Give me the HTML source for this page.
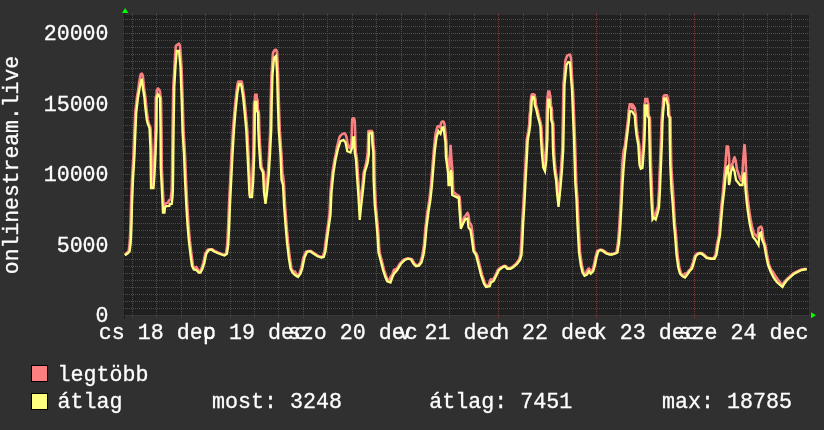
<!DOCTYPE html>
<html><head><meta charset="utf-8"><title>onlinestream.live</title>
<style>html,body{margin:0;padding:0;background:#303030;overflow:hidden}svg{display:block}text{font-family:"Liberation Mono",monospace;fill:#ffffff;font-size:21.66px;stroke:#ffffff;stroke-width:0.3px}</style></head><body>
<svg width="824" height="430" viewBox="0 0 824 430">
<rect x="0" y="0" width="824" height="430" fill="#303030"/>
<rect x="124" y="15" width="685" height="300" fill="#202020"/>
<g shape-rendering="crispEdges" stroke-width="1" stroke-dasharray="1 1" fill="none">
<line x1="123" x2="811" y1="315.5" y2="315.5" stroke="#5e3232"/>
<line x1="123" x2="811" y1="308.5" y2="308.5" stroke="#4c4c4c"/>
<line x1="123" x2="811" y1="301.5" y2="301.5" stroke="#4c4c4c"/>
<line x1="123" x2="811" y1="294.5" y2="294.5" stroke="#4c4c4c"/>
<line x1="123" x2="811" y1="287.5" y2="287.5" stroke="#4c4c4c"/>
<line x1="123" x2="811" y1="280.5" y2="280.5" stroke="#4c4c4c"/>
<line x1="123" x2="811" y1="273.5" y2="273.5" stroke="#4c4c4c"/>
<line x1="123" x2="811" y1="266.5" y2="266.5" stroke="#4c4c4c"/>
<line x1="123" x2="811" y1="259.5" y2="259.5" stroke="#4c4c4c"/>
<line x1="123" x2="811" y1="252.5" y2="252.5" stroke="#4c4c4c"/>
<line x1="123" x2="811" y1="244.5" y2="244.5" stroke="#843838"/>
<line x1="123" x2="811" y1="237.5" y2="237.5" stroke="#4c4c4c"/>
<line x1="123" x2="811" y1="230.5" y2="230.5" stroke="#4c4c4c"/>
<line x1="123" x2="811" y1="223.5" y2="223.5" stroke="#4c4c4c"/>
<line x1="123" x2="811" y1="216.5" y2="216.5" stroke="#4c4c4c"/>
<line x1="123" x2="811" y1="209.5" y2="209.5" stroke="#4c4c4c"/>
<line x1="123" x2="811" y1="202.5" y2="202.5" stroke="#4c4c4c"/>
<line x1="123" x2="811" y1="195.5" y2="195.5" stroke="#4c4c4c"/>
<line x1="123" x2="811" y1="188.5" y2="188.5" stroke="#4c4c4c"/>
<line x1="123" x2="811" y1="181.5" y2="181.5" stroke="#4c4c4c"/>
<line x1="123" x2="811" y1="174.5" y2="174.5" stroke="#843838"/>
<line x1="123" x2="811" y1="167.5" y2="167.5" stroke="#4c4c4c"/>
<line x1="123" x2="811" y1="160.5" y2="160.5" stroke="#4c4c4c"/>
<line x1="123" x2="811" y1="153.5" y2="153.5" stroke="#4c4c4c"/>
<line x1="123" x2="811" y1="146.5" y2="146.5" stroke="#4c4c4c"/>
<line x1="123" x2="811" y1="139.5" y2="139.5" stroke="#4c4c4c"/>
<line x1="123" x2="811" y1="132.5" y2="132.5" stroke="#4c4c4c"/>
<line x1="123" x2="811" y1="125.5" y2="125.5" stroke="#4c4c4c"/>
<line x1="123" x2="811" y1="117.5" y2="117.5" stroke="#4c4c4c"/>
<line x1="123" x2="811" y1="110.5" y2="110.5" stroke="#4c4c4c"/>
<line x1="123" x2="811" y1="103.5" y2="103.5" stroke="#843838"/>
<line x1="123" x2="811" y1="96.5" y2="96.5" stroke="#4c4c4c"/>
<line x1="123" x2="811" y1="89.5" y2="89.5" stroke="#4c4c4c"/>
<line x1="123" x2="811" y1="82.5" y2="82.5" stroke="#4c4c4c"/>
<line x1="123" x2="811" y1="75.5" y2="75.5" stroke="#4c4c4c"/>
<line x1="123" x2="811" y1="68.5" y2="68.5" stroke="#4c4c4c"/>
<line x1="123" x2="811" y1="61.5" y2="61.5" stroke="#4c4c4c"/>
<line x1="123" x2="811" y1="54.5" y2="54.5" stroke="#4c4c4c"/>
<line x1="123" x2="811" y1="47.5" y2="47.5" stroke="#4c4c4c"/>
<line x1="123" x2="811" y1="40.5" y2="40.5" stroke="#4c4c4c"/>
<line x1="123" x2="811" y1="33.5" y2="33.5" stroke="#843838"/>
<line x1="123" x2="811" y1="26.5" y2="26.5" stroke="#4c4c4c"/>
<line x1="123" x2="811" y1="19.5" y2="19.5" stroke="#4c4c4c"/>
<line y1="13" y2="318" x1="132.5" x2="132.5" stroke="#4c4c4c"/>
<line y1="13" y2="318" x1="156.5" x2="156.5" stroke="#4c4c4c"/>
<line y1="13" y2="318" x1="181.5" x2="181.5" stroke="#4c4c4c"/>
<line y1="13" y2="319" x1="205.5" x2="205.5" stroke="#843838"/>
<line y1="13" y2="318" x1="230.5" x2="230.5" stroke="#4c4c4c"/>
<line y1="13" y2="318" x1="254.5" x2="254.5" stroke="#4c4c4c"/>
<line y1="13" y2="318" x1="278.5" x2="278.5" stroke="#4c4c4c"/>
<line y1="13" y2="319" x1="303.5" x2="303.5" stroke="#843838"/>
<line y1="13" y2="318" x1="327.5" x2="327.5" stroke="#4c4c4c"/>
<line y1="13" y2="318" x1="352.5" x2="352.5" stroke="#4c4c4c"/>
<line y1="13" y2="318" x1="376.5" x2="376.5" stroke="#4c4c4c"/>
<line y1="13" y2="319" x1="401.5" x2="401.5" stroke="#843838"/>
<line y1="13" y2="318" x1="425.5" x2="425.5" stroke="#4c4c4c"/>
<line y1="13" y2="318" x1="449.5" x2="449.5" stroke="#4c4c4c"/>
<line y1="13" y2="318" x1="474.5" x2="474.5" stroke="#4c4c4c"/>
<line y1="13" y2="319" x1="498.5" x2="498.5" stroke="#843838"/>
<line y1="13" y2="318" x1="523.5" x2="523.5" stroke="#4c4c4c"/>
<line y1="13" y2="318" x1="547.5" x2="547.5" stroke="#4c4c4c"/>
<line y1="13" y2="318" x1="572.5" x2="572.5" stroke="#4c4c4c"/>
<line y1="13" y2="319" x1="596.5" x2="596.5" stroke="#843838"/>
<line y1="13" y2="318" x1="620.5" x2="620.5" stroke="#4c4c4c"/>
<line y1="13" y2="318" x1="645.5" x2="645.5" stroke="#4c4c4c"/>
<line y1="13" y2="318" x1="669.5" x2="669.5" stroke="#4c4c4c"/>
<line y1="13" y2="319" x1="694.5" x2="694.5" stroke="#843838"/>
<line y1="13" y2="318" x1="718.5" x2="718.5" stroke="#4c4c4c"/>
<line y1="13" y2="318" x1="743.5" x2="743.5" stroke="#4c4c4c"/>
<line y1="13" y2="318" x1="767.5" x2="767.5" stroke="#4c4c4c"/>
<line y1="13" y2="319" x1="791.5" x2="791.5" stroke="#843838"/>
</g>
<line x1="124.5" x2="124.5" y1="13" y2="319" stroke="#1c1c1c" stroke-width="1" shape-rendering="crispEdges"/>
<polygon points="122,13 128.3,13 125.1,8.1" fill="#00ff00"/>
<polygon points="811,312.2 811,318.2 816,315.2" fill="#00ff00"/>
<g fill="none" stroke-linejoin="miter" stroke-linecap="butt">
<path d="M124.80,254.33 L125.05,254.17 L125.30,254.00 L125.55,253.83 L125.80,253.67 L126.05,253.50 L126.30,253.33 L126.55,253.15 L126.80,252.91 L127.05,252.68 L127.30,252.44 L127.55,252.20 L127.80,251.96 L128.05,251.72 L128.30,251.49 L128.55,251.25 L128.80,249.70 L129.05,247.82 L129.30,245.95 L129.55,244.07 L129.80,240.45 L130.05,235.91 L130.30,229.45 L130.55,222.99 L130.80,213.20 L131.05,203.45 L131.30,197.20 L131.55,190.95 L131.80,184.70 L132.05,178.87 L132.30,174.70 L132.55,170.53 L132.80,166.37 L133.05,162.20 L133.30,158.03 L133.55,153.45 L133.80,147.20 L134.05,140.95 L134.30,134.70 L134.55,128.53 L134.80,122.70 L135.05,116.87 L135.30,111.77 L135.55,109.63 L135.80,107.49 L136.05,105.34 L136.30,103.20 L136.55,101.06 L136.80,98.91 L137.05,96.91 L137.30,95.47 L137.55,94.04 L137.80,92.60 L138.05,91.06 L138.30,89.11 L138.55,87.16 L138.80,85.21 L139.05,83.34 L139.30,81.79 L139.55,80.24 L139.80,78.70 L140.05,77.21 L140.30,76.00 L140.55,74.79 L140.80,74.18 L141.05,74.01 L141.30,73.83 L141.55,73.65 L141.80,73.60 L142.05,74.05 L142.30,74.49 L142.55,74.94 L142.80,75.39 L143.05,77.86 L143.30,80.37 L143.55,82.89 L143.80,85.40 L144.05,87.70 L144.30,89.87 L144.55,91.70 L144.80,93.32 L145.05,94.94 L145.30,96.55 L145.55,98.83 L145.80,101.56 L146.05,104.28 L146.30,107.00 L146.55,109.12 L146.80,111.23 L147.05,113.35 L147.30,115.47 L147.55,117.58 L147.80,119.70 L148.05,120.70 L148.30,121.70 L148.55,122.70 L148.80,123.70 L149.05,124.29 L149.30,124.88 L149.55,125.46 L149.80,126.05 L150.05,126.64 L150.30,127.23 L150.55,128.80 L150.80,134.30 L151.05,139.80 L151.30,145.30 L151.55,153.87 L151.80,174.70 L152.05,187.70 L152.30,187.70 L152.55,187.05 L152.80,183.80 L153.05,180.55 L153.30,177.30 L153.55,173.70 L153.80,168.70 L154.05,163.70 L154.30,158.70 L154.55,153.45 L154.80,147.20 L155.05,140.95 L155.30,134.70 L155.55,123.20 L155.80,97.08 L156.05,96.48 L156.30,95.88 L156.55,94.46 L156.80,90.51 L157.05,89.78 L157.30,89.45 L157.55,89.13 L157.80,88.80 L158.05,88.58 L158.30,88.78 L158.55,88.99 L158.80,89.19 L159.05,89.40 L159.30,89.98 L159.55,90.56 L159.80,91.14 L160.05,92.09 L160.30,94.51 L160.55,96.53 L160.80,96.90 L161.05,100.45 L161.30,116.70 L161.55,137.20 L161.80,168.20 L162.05,173.20 L162.30,178.20 L162.55,183.20 L162.80,188.20 L163.05,193.20 L163.30,198.20 L163.55,203.20 L163.80,208.20 L164.05,207.13 L164.30,206.81 L164.55,206.32 L164.80,205.18 L165.05,204.22 L165.30,204.00 L165.55,203.78 L165.80,203.56 L166.05,203.36 L166.30,203.25 L166.55,203.15 L166.80,203.04 L167.05,202.94 L167.30,202.83 L167.55,202.73 L167.80,202.62 L168.05,202.52 L168.30,202.41 L168.55,201.64 L168.80,200.43 L169.05,200.31 L169.30,200.19 L169.55,199.98 L169.80,199.69 L170.05,199.56 L170.30,199.43 L170.55,199.29 L170.80,198.36 L171.05,196.22 L171.30,194.08 L171.55,191.41 L171.80,186.76 L172.05,175.14 L172.30,150.40 L172.55,129.97 L172.80,114.69 L173.05,101.15 L173.30,87.20 L173.55,82.87 L173.80,78.55 L174.05,74.22 L174.30,69.89 L174.55,64.78 L174.80,60.79 L175.05,57.08 L175.30,53.38 L175.55,49.67 L175.80,46.33 L176.05,45.98 L176.30,45.64 L176.55,45.30 L176.80,44.96 L177.05,44.82 L177.30,44.68 L177.55,44.54 L177.80,44.40 L178.05,44.26 L178.30,44.12 L178.55,43.98 L178.80,43.84 L179.05,43.83 L179.30,44.30 L179.55,44.78 L179.80,45.26 L180.05,46.29 L180.30,49.52 L180.55,52.81 L180.80,56.38 L181.05,59.95 L181.30,63.52 L181.55,67.94 L181.80,75.60 L182.05,82.60 L182.30,89.60 L182.55,96.60 L182.80,104.03 L183.05,113.20 L183.30,122.37 L183.55,130.53 L183.80,134.70 L184.05,138.87 L184.30,143.03 L184.55,147.20 L184.80,151.37 L185.05,155.95 L185.30,162.20 L185.55,168.45 L185.80,174.70 L186.05,180.70 L186.30,185.70 L186.55,190.70 L186.80,195.70 L187.05,200.70 L187.30,205.50 L187.55,209.50 L187.80,213.50 L188.05,217.50 L188.30,221.50 L188.55,225.30 L188.80,228.30 L189.05,231.30 L189.30,234.30 L189.55,237.30 L189.80,240.13 L190.05,242.27 L190.30,244.41 L190.55,246.56 L190.80,248.70 L191.05,250.84 L191.30,252.99 L191.55,255.07 L191.80,256.90 L192.05,258.73 L192.30,260.57 L192.55,262.40 L192.80,264.23 L193.05,265.80 L193.30,266.30 L193.55,266.80 L193.80,267.25 L194.05,267.50 L194.30,267.76 L194.55,268.01 L194.80,268.18 L195.05,267.98 L195.30,267.78 L195.55,267.59 L195.80,267.39 L196.05,267.20 L196.30,267.10 L196.55,267.40 L196.80,267.69 L197.05,267.99 L197.30,268.32 L197.55,268.82 L197.80,269.32 L198.05,269.81 L198.30,270.31 L198.55,270.80 L198.80,271.25 L199.05,271.50 L199.30,271.75 L199.55,272.00 L199.80,271.64 L200.05,271.17 L200.30,270.70 L200.55,270.23 L200.80,269.76 L201.05,269.29 L201.30,268.82 L201.55,268.29 L201.80,267.51 L202.05,266.73 L202.30,265.95 L202.55,265.17 L202.80,264.39 L203.05,263.61 L203.30,262.82 L203.55,261.95 L203.80,260.70 L204.05,259.45 L204.30,258.20 L204.55,256.95 L204.80,255.70 L205.05,254.45 L205.30,253.37 L205.55,253.00 L205.80,252.62 L206.05,252.25 L206.30,251.87 L206.55,251.50 L206.80,251.12 L207.05,250.75 L207.30,250.37 L207.55,250.00 L207.80,249.69 L208.05,249.64 L208.30,249.59 L208.55,249.54 L208.80,249.49 L209.05,249.44 L209.30,249.39 L209.55,249.34 L209.80,249.29 L210.05,249.24 L210.30,249.23 L210.55,249.23 L210.80,249.23 L211.05,249.23 L211.30,249.23 L211.55,249.23 L211.80,249.23 L212.05,249.23 L212.30,249.23 L212.55,249.41 L212.80,249.59 L213.05,249.76 L213.30,249.94 L213.55,250.11 L213.80,250.28 L214.05,250.46 L214.30,250.63 L214.55,250.81 L214.80,250.97 L215.05,251.09 L215.30,251.21 L215.55,251.32 L215.80,251.44 L216.05,251.56 L216.30,251.67 L216.55,251.79 L216.80,251.91 L217.05,252.02 L217.30,252.14 L217.55,252.26 L217.80,252.37 L218.05,252.49 L218.30,252.61 L218.55,252.72 L218.80,252.82 L219.05,252.92 L219.30,253.02 L219.55,253.12 L219.80,253.22 L220.05,253.32 L220.30,253.42 L220.55,253.52 L220.80,253.62 L221.05,253.72 L221.30,253.82 L221.55,253.92 L221.80,254.02 L222.05,254.12 L222.30,254.22 L222.55,254.29 L222.80,254.37 L223.05,254.45 L223.30,254.52 L223.55,254.60 L223.80,254.68 L224.05,254.75 L224.30,254.64 L224.55,254.46 L224.80,254.29 L225.05,254.11 L225.30,253.94 L225.55,253.76 L225.80,253.59 L226.05,253.10 L226.30,251.35 L226.55,249.60 L226.80,247.85 L227.05,246.10 L227.30,243.70 L227.55,238.70 L227.80,233.70 L228.05,228.70 L228.30,223.37 L228.55,216.70 L228.80,210.03 L229.05,203.70 L229.30,198.70 L229.55,193.70 L229.80,188.70 L230.05,183.70 L230.30,178.70 L230.55,173.70 L230.80,168.70 L231.05,163.70 L231.30,158.70 L231.55,153.87 L231.80,149.70 L232.05,145.53 L232.30,141.37 L232.55,137.20 L232.80,133.03 L233.05,129.07 L233.30,125.92 L233.55,122.76 L233.80,119.61 L234.05,116.45 L234.30,113.30 L234.55,110.75 L234.80,108.21 L235.05,105.66 L235.30,103.12 L235.55,100.63 L235.80,98.18 L236.05,95.73 L236.30,93.28 L236.55,91.23 L236.80,89.46 L237.05,87.68 L237.30,85.91 L237.55,84.33 L237.80,83.15 L238.05,82.36 L238.30,81.58 L238.55,81.50 L238.80,81.45 L239.05,81.45 L239.30,81.45 L239.55,81.45 L239.80,81.45 L240.05,81.45 L240.30,81.45 L240.55,81.45 L240.80,81.45 L241.05,81.45 L241.30,81.45 L241.55,81.45 L241.80,82.08 L242.05,83.31 L242.30,84.54 L242.55,85.77 L242.80,87.62 L243.05,89.63 L243.30,91.37 L243.55,93.03 L243.80,94.70 L244.05,96.37 L244.30,98.70 L244.55,101.20 L244.80,103.70 L245.05,106.20 L245.30,108.70 L245.55,111.20 L245.80,113.88 L246.05,116.61 L246.30,119.34 L246.55,122.06 L246.80,124.79 L247.05,127.52 L247.30,130.70 L247.55,135.70 L247.80,140.70 L248.05,145.70 L248.30,150.70 L248.55,155.70 L248.80,160.70 L249.05,165.70 L249.30,170.70 L249.55,175.70 L249.80,180.70 L250.05,185.70 L250.30,190.70 L250.55,194.90 L250.80,195.90 L251.05,196.02 L251.30,192.62 L251.55,189.22 L251.80,185.82 L252.05,182.42 L252.30,178.45 L252.55,172.20 L252.80,165.95 L253.05,159.70 L253.30,151.92 L253.55,138.03 L253.80,116.70 L254.05,102.70 L254.30,101.70 L254.55,101.70 L254.80,99.65 L255.05,96.16 L255.30,94.73 L255.55,94.73 L255.80,94.73 L256.05,94.73 L256.30,94.73 L256.55,94.73 L256.80,98.42 L257.05,98.93 L257.30,99.45 L257.55,99.96 L257.80,108.47 L258.05,109.64 L258.30,110.95 L258.55,111.58 L258.80,112.20 L259.05,115.53 L259.30,129.70 L259.55,135.06 L259.80,140.41 L260.05,145.45 L260.30,149.20 L260.55,152.95 L260.80,156.70 L261.05,160.45 L261.30,164.20 L261.55,167.30 L261.80,167.80 L262.05,168.30 L262.30,168.80 L262.55,169.30 L262.80,169.80 L263.05,170.30 L263.30,170.80 L263.55,171.30 L263.80,171.80 L264.05,173.20 L264.30,178.20 L264.55,183.20 L264.80,188.20 L265.05,192.58 L265.30,194.45 L265.55,195.57 L265.80,193.70 L266.05,191.70 L266.30,189.20 L266.55,186.70 L266.80,184.20 L267.05,181.70 L267.30,179.20 L267.55,176.70 L267.80,173.90 L268.05,169.90 L268.30,165.90 L268.55,161.90 L268.80,157.90 L269.05,153.70 L269.30,148.70 L269.55,143.70 L269.80,138.70 L270.05,133.70 L270.30,126.70 L270.55,111.70 L270.80,98.03 L271.05,89.70 L271.30,81.37 L271.55,74.13 L271.80,71.03 L272.05,66.83 L272.30,62.63 L272.55,58.65 L272.80,55.54 L273.05,52.95 L273.30,52.43 L273.55,51.90 L273.80,51.38 L274.05,50.90 L274.30,50.60 L274.55,50.30 L274.80,50.00 L275.05,49.94 L275.30,49.89 L275.55,49.84 L275.80,49.79 L276.05,49.85 L276.30,50.37 L276.55,50.88 L276.80,51.39 L277.05,52.67 L277.30,58.04 L277.55,63.41 L277.80,68.50 L278.05,73.57 L278.30,82.90 L278.55,92.23 L278.80,101.20 L279.05,108.70 L279.30,116.20 L279.55,123.70 L279.80,130.41 L280.05,133.99 L280.30,137.56 L280.55,141.13 L280.80,144.70 L281.05,148.27 L281.30,151.84 L281.55,155.73 L281.80,160.89 L282.05,166.04 L282.30,171.20 L282.55,175.27 L282.80,175.01 L283.05,175.30 L283.30,177.77 L283.55,180.25 L283.80,182.72 L284.05,185.70 L284.30,190.70 L284.55,195.70 L284.80,200.70 L285.05,205.37 L285.30,208.70 L285.55,212.03 L285.80,215.37 L286.05,218.70 L286.30,222.03 L286.55,225.28 L286.80,228.20 L287.05,231.12 L287.30,234.03 L287.55,236.95 L287.80,239.87 L288.05,242.63 L288.30,244.77 L288.55,246.91 L288.80,249.06 L289.05,251.20 L289.30,253.34 L289.55,255.49 L289.80,257.52 L290.05,259.13 L290.30,260.74 L290.55,262.34 L290.80,263.95 L291.05,265.56 L291.30,267.16 L291.55,268.54 L291.80,269.01 L292.05,269.48 L292.30,269.95 L292.55,270.38 L292.80,270.64 L293.05,270.91 L293.30,271.17 L293.55,271.39 L293.80,271.43 L294.05,271.48 L294.30,271.52 L294.55,271.57 L294.80,271.61 L295.05,271.73 L295.30,272.16 L295.55,272.58 L295.80,273.00 L296.05,273.40 L296.30,273.74 L296.55,274.08 L296.80,274.41 L297.05,274.75 L297.30,275.09 L297.55,275.43 L297.80,275.52 L298.05,275.33 L298.30,275.01 L298.55,274.69 L298.80,274.36 L299.05,274.03 L299.30,273.71 L299.55,273.29 L299.80,272.51 L300.05,271.73 L300.30,270.95 L300.55,270.17 L300.80,269.39 L301.05,268.61 L301.30,267.82 L301.55,266.95 L301.80,265.70 L302.05,264.45 L302.30,263.20 L302.55,261.95 L302.80,260.70 L303.05,259.45 L303.30,258.20 L303.55,257.09 L303.80,256.54 L304.05,255.99 L304.30,255.44 L304.55,254.89 L304.80,254.34 L305.05,253.79 L305.30,253.24 L305.55,252.69 L305.80,252.14 L306.05,251.69 L306.30,251.62 L306.55,251.56 L306.80,251.50 L307.05,251.44 L307.30,251.38 L307.55,251.31 L307.80,251.25 L308.05,251.19 L308.30,251.12 L308.55,251.06 L308.80,251.00 L309.05,250.98 L309.30,250.98 L309.55,250.98 L309.80,250.98 L310.05,250.98 L310.30,250.98 L310.55,250.98 L310.80,250.98 L311.05,250.98 L311.30,251.15 L311.55,251.32 L311.80,251.48 L312.05,251.65 L312.30,251.82 L312.55,251.98 L312.80,252.15 L313.05,252.32 L313.30,252.48 L313.55,252.65 L313.80,252.82 L314.05,252.98 L314.30,253.15 L314.55,253.32 L314.80,253.48 L315.05,253.65 L315.30,253.82 L315.55,253.98 L315.80,254.15 L316.05,254.32 L316.30,254.48 L316.55,254.65 L316.80,254.82 L317.05,254.98 L317.30,255.15 L317.55,255.32 L317.80,255.48 L318.05,255.65 L318.30,255.82 L318.55,255.97 L318.80,256.05 L319.05,256.13 L319.30,256.22 L319.55,256.30 L319.80,256.38 L320.05,256.47 L320.30,256.55 L320.55,256.63 L320.80,256.72 L321.05,256.80 L321.30,256.88 L321.55,256.94 L321.80,256.89 L322.05,256.84 L322.30,256.79 L322.55,256.74 L322.80,256.54 L323.05,255.71 L323.30,254.89 L323.55,254.07 L323.80,253.25 L324.05,252.43 L324.30,251.61 L324.55,250.56 L324.80,248.59 L325.05,246.63 L325.30,244.66 L325.55,242.70 L325.80,240.74 L326.05,238.77 L326.30,236.84 L326.55,235.06 L326.80,233.27 L327.05,231.49 L327.30,229.70 L327.55,227.91 L327.80,226.13 L328.05,224.37 L328.30,222.70 L328.55,221.03 L328.80,219.37 L329.05,217.70 L329.30,216.03 L329.55,213.57 L329.80,207.95 L330.05,202.32 L330.30,196.70 L330.55,191.70 L330.80,189.20 L331.05,186.70 L331.30,184.20 L331.55,181.70 L331.80,179.20 L332.05,176.70 L332.30,174.20 L332.55,171.89 L332.80,170.32 L333.05,168.76 L333.30,167.20 L333.55,165.64 L333.80,164.07 L334.05,162.51 L334.30,160.95 L334.55,159.47 L334.80,158.35 L335.05,157.22 L335.30,156.10 L335.55,154.93 L335.80,153.55 L336.05,152.18 L336.30,150.81 L336.55,149.44 L336.80,148.07 L337.05,146.77 L337.30,145.78 L337.55,144.78 L337.80,143.79 L338.05,142.79 L338.30,141.79 L338.55,140.80 L338.80,139.80 L339.05,138.81 L339.30,137.81 L339.55,136.94 L339.80,136.59 L340.05,136.24 L340.30,135.89 L340.55,135.57 L340.80,135.37 L341.05,135.16 L341.30,134.95 L341.55,134.75 L341.80,134.54 L342.05,134.33 L342.30,134.13 L342.55,134.00 L342.80,133.90 L343.05,133.80 L343.30,133.69 L343.55,133.60 L343.80,133.55 L344.05,133.50 L344.30,133.45 L344.55,133.40 L344.80,133.66 L345.05,133.92 L345.30,134.18 L345.55,134.52 L345.80,135.19 L346.05,135.85 L346.30,136.51 L346.55,137.37 L346.80,138.97 L347.05,140.57 L347.30,142.11 L347.55,143.43 L347.80,144.74 L348.05,146.05 L348.30,147.13 L348.55,147.29 L348.80,147.45 L349.05,147.61 L349.30,147.77 L349.55,147.93 L349.80,147.79 L350.05,147.06 L350.30,146.32 L350.55,145.58 L350.80,144.96 L351.05,144.38 L351.30,143.25 L351.55,139.92 L351.80,132.05 L352.05,123.70 L352.30,119.11 L352.55,118.83 L352.80,118.56 L353.05,118.34 L353.30,118.34 L353.55,118.34 L353.80,118.34 L354.05,118.50 L354.30,119.32 L354.55,120.14 L354.80,121.94 L355.05,128.61 L355.30,139.29 L355.55,146.97 L355.80,151.92 L356.05,153.82 L356.30,155.16 L356.55,156.70 L356.80,158.37 L357.05,160.50 L357.30,164.50 L357.55,168.50 L357.80,172.50 L358.05,176.50 L358.30,180.40 L358.55,183.90 L358.80,187.40 L359.05,190.90 L359.30,194.40 L359.55,198.10 L359.80,202.60 L360.05,206.76 L360.30,204.57 L360.55,202.39 L360.80,200.20 L361.05,198.01 L361.30,195.82 L361.55,193.64 L361.80,191.45 L362.05,189.20 L362.30,186.70 L362.55,184.20 L362.80,181.70 L363.05,179.20 L363.30,176.70 L363.55,174.20 L363.80,172.03 L364.05,171.20 L364.30,170.37 L364.55,169.53 L364.80,168.66 L365.05,167.61 L365.30,166.56 L365.55,165.51 L365.80,164.46 L366.05,163.41 L366.30,162.36 L366.55,161.31 L366.80,159.55 L367.05,157.60 L367.30,155.65 L367.55,153.71 L367.80,152.06 L368.05,142.02 L368.30,132.18 L368.55,131.09 L368.80,131.00 L369.05,131.06 L369.30,131.06 L369.55,131.06 L369.80,131.06 L370.05,131.06 L370.30,131.06 L370.55,131.06 L370.80,131.06 L371.05,131.06 L371.30,131.06 L371.55,131.06 L371.80,131.06 L372.05,131.55 L372.30,132.37 L372.55,132.70 L372.80,132.70 L373.05,136.00 L373.30,141.50 L373.55,145.03 L373.80,147.26 L374.05,149.48 L374.30,151.70 L374.55,175.03 L374.80,184.05 L375.05,189.48 L375.30,194.92 L375.55,200.35 L375.80,205.20 L376.05,207.70 L376.30,210.20 L376.55,212.77 L376.80,215.63 L377.05,218.49 L377.30,221.34 L377.55,224.20 L377.80,227.06 L378.05,229.91 L378.30,233.00 L378.55,237.00 L378.80,241.00 L379.05,245.00 L379.30,249.00 L379.55,252.39 L379.80,253.33 L380.05,254.26 L380.30,255.20 L380.55,256.14 L380.80,257.08 L381.05,258.01 L381.30,258.95 L381.55,259.90 L381.80,260.90 L382.05,261.90 L382.30,262.90 L382.55,263.90 L382.80,264.90 L383.05,265.90 L383.30,266.90 L383.55,267.90 L383.80,268.90 L384.05,269.85 L384.30,270.60 L384.55,271.35 L384.80,272.10 L385.05,272.85 L385.30,273.60 L385.55,274.35 L385.80,275.10 L386.05,275.85 L386.30,276.60 L386.55,277.31 L386.80,277.84 L387.05,278.38 L387.30,278.88 L387.55,279.22 L387.80,279.57 L388.05,279.92 L388.30,280.17 L388.55,280.08 L388.80,279.99 L389.05,279.90 L389.30,279.80 L389.55,279.71 L389.80,279.41 L390.05,278.51 L390.30,277.61 L390.55,276.81 L390.80,276.45 L391.05,276.08 L391.30,275.76 L391.55,275.57 L391.80,275.39 L392.05,275.20 L392.30,274.88 L392.55,273.99 L392.80,273.11 L393.05,272.27 L393.30,271.63 L393.55,270.99 L393.80,270.35 L394.05,269.82 L394.30,269.72 L394.55,269.62 L394.80,269.52 L395.05,269.42 L395.30,269.32 L395.55,269.22 L395.80,269.12 L396.05,269.02 L396.30,268.90 L396.55,268.67 L396.80,268.44 L397.05,268.22 L397.30,267.95 L397.55,267.53 L397.80,267.12 L398.05,266.70 L398.30,266.28 L398.55,265.87 L398.80,265.45 L399.05,265.03 L399.30,264.62 L399.55,264.20 L399.80,263.78 L400.05,263.40 L400.30,263.15 L400.55,262.90 L400.80,262.65 L401.05,262.40 L401.30,262.15 L401.55,261.90 L401.80,261.65 L402.05,261.40 L402.30,261.15 L402.55,260.90 L402.80,260.65 L403.05,260.40 L403.30,260.15 L403.55,259.90 L403.80,259.68 L404.05,259.58 L404.30,259.49 L404.55,259.39 L404.80,259.30 L405.05,259.20 L405.30,259.10 L405.55,259.01 L405.80,258.91 L406.05,258.82 L406.30,258.72 L406.55,258.62 L406.80,258.53 L407.05,258.46 L407.30,258.46 L407.55,258.46 L407.80,258.46 L408.05,258.46 L408.30,258.46 L408.55,258.46 L408.80,258.46 L409.05,258.46 L409.30,258.52 L409.55,258.59 L409.80,258.65 L410.05,258.71 L410.30,258.77 L410.55,258.84 L410.80,258.90 L411.05,258.96 L411.30,259.02 L411.55,259.09 L411.80,259.15 L412.05,259.29 L412.30,259.71 L412.55,260.13 L412.80,260.56 L413.05,260.99 L413.30,261.41 L413.55,261.83 L413.80,262.26 L414.05,262.69 L414.30,263.11 L414.55,263.50 L414.80,263.75 L415.05,264.00 L415.30,264.25 L415.55,264.50 L415.80,264.75 L416.05,265.00 L416.30,265.25 L416.55,265.50 L416.80,265.65 L417.05,265.61 L417.30,265.57 L417.55,265.52 L417.80,265.48 L418.05,265.38 L418.30,265.06 L418.55,264.73 L418.80,264.41 L419.05,264.08 L419.30,263.76 L419.55,263.44 L419.80,263.11 L420.05,262.78 L420.30,262.46 L420.55,262.01 L420.80,261.07 L421.05,260.14 L421.30,259.20 L421.55,258.26 L421.80,257.32 L422.05,256.39 L422.30,255.45 L422.55,254.37 L422.80,252.70 L423.05,251.03 L423.30,249.37 L423.55,247.70 L423.80,246.03 L424.05,244.12 L424.30,241.20 L424.55,238.28 L424.80,235.37 L425.05,232.45 L425.30,229.53 L425.55,226.81 L425.80,224.83 L426.05,222.86 L426.30,220.88 L426.55,218.91 L426.80,216.94 L427.05,214.96 L427.30,212.99 L427.55,211.26 L427.80,209.70 L428.05,208.14 L428.30,206.57 L428.55,205.01 L428.80,203.45 L429.05,201.89 L429.30,200.32 L429.55,198.29 L429.80,195.95 L430.05,193.61 L430.30,191.26 L430.55,188.92 L430.80,186.57 L431.05,184.07 L431.30,180.95 L431.55,177.82 L431.80,174.70 L432.05,171.58 L432.30,168.45 L432.55,165.33 L432.80,162.39 L433.05,159.51 L433.30,156.62 L433.55,153.74 L433.80,150.48 L434.05,147.68 L434.30,145.25 L434.55,142.82 L434.80,140.40 L435.05,138.10 L435.30,135.89 L435.55,133.92 L435.80,132.88 L436.05,131.84 L436.30,130.80 L436.55,129.80 L436.80,128.91 L437.05,128.03 L437.30,127.15 L437.55,126.48 L437.80,126.38 L438.05,126.28 L438.30,126.17 L438.55,126.11 L438.80,126.22 L439.05,126.32 L439.30,126.42 L439.55,126.52 L439.80,126.94 L440.05,127.20 L440.30,126.41 L440.55,125.55 L440.80,124.43 L441.05,123.30 L441.30,122.35 L441.55,122.12 L441.80,121.88 L442.05,121.65 L442.30,121.46 L442.55,121.46 L442.80,121.46 L443.05,121.46 L443.30,121.46 L443.55,121.58 L443.80,122.20 L444.05,122.81 L444.30,123.43 L444.55,124.39 L444.80,126.72 L445.05,129.05 L445.30,131.38 L445.55,133.94 L445.80,136.71 L446.05,138.98 L446.30,140.92 L446.55,146.20 L446.80,153.70 L447.05,157.75 L447.30,159.50 L447.55,161.25 L447.80,163.00 L448.05,164.86 L448.30,166.79 L448.55,168.39 L448.80,168.69 L449.05,169.84 L449.30,168.45 L449.55,162.94 L449.80,160.45 L450.05,154.57 L450.30,148.70 L450.55,144.79 L450.80,148.79 L451.05,152.79 L451.30,156.79 L451.55,160.48 L451.80,163.56 L452.05,166.65 L452.30,169.24 L452.55,171.24 L452.80,178.74 L453.05,186.24 L453.30,192.26 L453.55,192.39 L453.80,192.51 L454.05,192.64 L454.30,192.76 L454.55,192.89 L454.80,193.03 L455.05,193.24 L455.30,193.45 L455.55,193.65 L455.80,193.86 L456.05,194.07 L456.30,194.27 L456.55,194.48 L456.80,194.69 L457.05,194.89 L457.30,195.09 L457.55,195.21 L457.80,195.34 L458.05,195.46 L458.30,195.56 L458.55,195.56 L458.80,195.77 L459.05,196.28 L459.30,196.79 L459.55,197.20 L459.80,198.76 L460.05,202.67 L460.30,206.58 L460.55,210.42 L460.80,214.03 L461.05,217.63 L461.30,221.24 L461.55,224.47 L461.80,223.90 L462.05,223.35 L462.30,222.85 L462.55,222.35 L462.80,221.85 L463.05,221.30 L463.30,220.55 L463.55,219.81 L463.80,219.06 L464.05,218.32 L464.30,217.57 L464.55,216.92 L464.80,216.66 L465.05,216.39 L465.30,216.13 L465.55,215.84 L465.80,215.46 L466.05,215.08 L466.30,214.71 L466.55,214.35 L466.80,213.99 L467.05,213.63 L467.30,213.27 L467.55,213.09 L467.80,213.60 L468.05,214.11 L468.30,214.62 L468.55,215.42 L468.80,217.44 L469.05,219.46 L469.30,221.48 L469.55,223.12 L469.80,223.23 L470.05,223.34 L470.30,223.44 L470.55,223.65 L470.80,224.23 L471.05,224.82 L471.30,225.40 L471.55,226.26 L471.80,228.20 L472.05,230.20 L472.30,232.41 L472.55,234.62 L472.80,236.84 L473.05,239.09 L473.30,241.51 L473.55,243.83 L473.80,245.70 L474.05,247.58 L474.30,249.45 L474.55,251.03 L474.80,251.40 L475.05,251.78 L475.30,252.15 L475.55,252.53 L475.80,252.90 L476.05,253.28 L476.30,253.65 L476.55,254.03 L476.80,254.40 L477.05,254.90 L477.30,255.90 L477.55,256.90 L477.80,257.90 L478.05,258.90 L478.30,259.90 L478.55,260.90 L478.80,261.90 L479.05,262.90 L479.30,263.90 L479.55,264.90 L479.80,265.90 L480.05,266.90 L480.30,267.90 L480.55,268.90 L480.80,269.90 L481.05,270.90 L481.30,271.90 L481.55,272.90 L481.80,273.90 L482.05,274.85 L482.30,275.58 L482.55,276.30 L482.80,277.03 L483.05,277.76 L483.30,278.49 L483.55,279.22 L483.80,279.95 L484.05,280.68 L484.30,281.41 L484.55,282.14 L484.80,282.87 L485.05,283.53 L485.30,283.94 L485.55,284.34 L485.80,284.75 L486.05,285.13 L486.30,285.43 L486.55,285.73 L486.80,285.99 L487.05,285.83 L487.30,285.67 L487.55,285.51 L487.80,285.35 L488.05,285.19 L488.30,285.03 L488.55,284.87 L488.80,284.58 L489.05,283.72 L489.30,282.86 L489.55,282.00 L489.80,281.13 L490.05,280.34 L490.30,280.05 L490.55,279.76 L490.80,279.47 L491.05,279.26 L491.30,279.39 L491.55,279.51 L491.80,279.63 L492.05,279.75 L492.30,279.87 L492.55,279.92 L492.80,279.66 L493.05,279.41 L493.30,279.15 L493.55,278.85 L493.80,278.35 L494.05,277.85 L494.30,277.35 L494.55,276.85 L494.80,276.35 L495.05,275.85 L495.30,275.32 L495.55,274.80 L495.80,274.28 L496.05,273.76 L496.30,273.24 L496.55,272.72 L496.80,272.20 L497.05,271.68 L497.30,271.16 L497.55,270.64 L497.80,270.12 L498.05,269.66 L498.30,269.47 L498.55,269.28 L498.80,269.08 L499.05,268.89 L499.30,268.70 L499.55,268.51 L499.80,268.32 L500.05,268.12 L500.30,267.93 L500.55,267.74 L500.80,267.55 L501.05,267.35 L501.30,267.18 L501.55,267.05 L501.80,266.93 L502.05,266.80 L502.30,266.68 L502.55,266.55 L502.80,266.43 L503.05,266.30 L503.30,266.18 L503.55,266.05 L503.80,266.00 L504.05,266.00 L504.30,266.00 L504.55,266.00 L504.80,266.00 L505.05,266.00 L505.30,266.00 L505.55,266.00 L505.80,266.00 L506.05,266.25 L506.30,266.50 L506.55,266.75 L506.80,267.00 L507.05,267.25 L507.30,267.50 L507.55,267.75 L507.80,268.00 L508.05,268.25 L508.30,268.45 L508.55,268.45 L508.80,268.45 L509.05,268.45 L509.30,268.45 L509.55,268.42 L509.80,268.27 L510.05,268.13 L510.30,267.98 L510.55,267.84 L510.80,267.69 L511.05,267.55 L511.30,267.40 L511.55,267.25 L511.80,267.11 L512.05,266.96 L512.30,266.82 L512.55,266.66 L512.80,266.44 L513.05,266.22 L513.30,266.01 L513.55,265.79 L513.80,265.57 L514.05,265.36 L514.30,265.14 L514.55,264.92 L514.80,264.71 L515.05,264.49 L515.30,264.27 L515.55,264.06 L515.80,263.84 L516.05,263.62 L516.30,263.38 L516.55,263.04 L516.80,262.70 L517.05,262.36 L517.30,262.02 L517.55,261.68 L517.80,261.34 L518.05,261.00 L518.30,260.65 L518.55,260.31 L518.80,259.97 L519.05,259.53 L519.30,258.70 L519.55,257.87 L519.80,257.03 L520.05,256.20 L520.30,255.37 L520.55,253.95 L520.80,250.20 L521.05,246.45 L521.30,242.70 L521.55,238.53 L521.80,232.70 L522.05,226.87 L522.30,221.40 L522.55,217.40 L522.80,213.40 L523.05,209.40 L523.30,205.40 L523.55,201.20 L523.80,196.20 L524.05,191.20 L524.30,186.20 L524.55,181.20 L524.80,176.30 L525.05,171.80 L525.30,167.30 L525.55,162.80 L525.80,158.30 L526.05,153.70 L526.30,148.70 L526.55,143.70 L526.80,139.43 L527.05,138.06 L527.30,136.70 L527.55,135.34 L527.80,133.97 L528.05,132.61 L528.30,131.25 L528.55,129.53 L528.80,127.59 L529.05,125.64 L529.30,123.70 L529.55,117.03 L529.80,113.99 L530.05,111.84 L530.30,109.70 L530.55,103.53 L530.80,100.64 L531.05,98.57 L531.30,96.50 L531.55,95.13 L531.80,94.70 L532.05,94.49 L532.30,94.29 L532.55,94.29 L532.80,94.29 L533.05,94.29 L533.30,94.29 L533.55,94.29 L533.80,94.35 L534.05,94.51 L534.30,94.67 L534.55,94.83 L534.80,96.14 L535.05,97.28 L535.30,98.42 L535.55,99.56 L535.80,104.21 L536.05,105.14 L536.30,106.08 L536.55,106.99 L536.80,107.81 L537.05,108.62 L537.30,109.44 L537.55,110.33 L537.80,111.46 L538.05,112.59 L538.30,113.73 L538.55,114.86 L538.80,115.99 L539.05,117.07 L539.30,117.95 L539.55,118.82 L539.80,119.70 L540.05,120.57 L540.30,121.45 L540.55,122.53 L540.80,123.76 L541.05,124.98 L541.30,126.21 L541.55,129.85 L541.80,135.10 L542.05,139.59 L542.30,143.56 L542.55,147.54 L542.80,151.52 L543.05,155.20 L543.30,157.70 L543.55,160.20 L543.80,162.70 L544.05,165.20 L544.30,167.31 L544.55,166.19 L544.80,164.03 L545.05,161.86 L545.30,159.70 L545.55,155.15 L545.80,150.61 L546.05,146.06 L546.30,141.52 L546.55,129.39 L546.80,112.20 L547.05,104.14 L547.30,99.30 L547.55,97.76 L547.80,95.20 L548.05,92.89 L548.30,91.51 L548.55,91.51 L548.80,91.51 L549.05,91.51 L549.30,91.51 L549.55,92.59 L549.80,94.38 L550.05,94.99 L550.30,95.61 L550.55,98.62 L550.80,103.24 L551.05,105.40 L551.30,106.95 L551.55,107.58 L551.80,108.20 L552.05,115.39 L552.30,120.03 L552.55,120.87 L552.80,121.70 L553.05,122.53 L553.30,123.37 L553.55,130.60 L553.80,142.10 L554.05,150.13 L554.30,155.30 L554.55,158.30 L554.80,161.30 L555.05,164.30 L555.30,167.30 L555.55,170.03 L555.80,171.70 L556.05,173.37 L556.30,175.03 L556.55,176.70 L556.80,178.37 L557.05,180.32 L557.30,183.45 L557.55,186.57 L557.80,189.70 L558.05,192.68 L558.30,195.10 L558.55,196.70 L558.80,194.20 L559.05,191.70 L559.30,189.20 L559.55,186.70 L559.80,184.10 L560.05,181.10 L560.30,178.10 L560.55,175.10 L560.80,172.10 L561.05,168.90 L561.30,164.90 L561.55,160.90 L561.80,156.90 L562.05,152.90 L562.30,147.20 L562.55,134.70 L562.80,122.03 L563.05,108.70 L563.30,95.37 L563.55,84.20 L563.80,81.48 L564.05,77.89 L564.30,74.29 L564.55,70.86 L564.80,68.05 L565.05,65.24 L565.30,62.44 L565.55,60.04 L565.80,59.31 L566.05,58.57 L566.30,57.83 L566.55,57.14 L566.80,56.59 L567.05,56.05 L567.30,55.60 L567.55,55.48 L567.80,55.37 L568.05,55.25 L568.30,55.13 L568.55,55.01 L568.80,54.90 L569.05,54.78 L569.30,54.66 L569.55,54.62 L569.80,54.57 L570.05,54.71 L570.30,55.60 L570.55,56.50 L570.80,57.39 L571.05,59.05 L571.30,63.83 L571.55,68.60 L571.80,73.38 L572.05,77.82 L572.30,80.95 L572.55,84.07 L572.80,87.20 L573.05,90.95 L573.30,97.20 L573.55,103.45 L573.80,109.70 L574.05,115.95 L574.30,122.20 L574.55,128.45 L574.80,134.70 L575.05,141.40 L575.30,149.90 L575.55,158.40 L575.80,166.90 L576.05,175.40 L576.30,182.90 L576.55,186.40 L576.80,189.90 L577.05,193.40 L577.30,196.90 L577.55,200.95 L577.80,207.20 L578.05,213.45 L578.30,219.70 L578.55,225.62 L578.80,230.20 L579.05,234.78 L579.30,239.37 L579.55,243.95 L579.80,248.53 L580.05,252.56 L580.30,254.34 L580.55,256.13 L580.80,257.91 L581.05,259.70 L581.30,261.49 L581.55,263.27 L581.80,264.91 L582.05,265.99 L582.30,267.06 L582.55,268.13 L582.80,269.20 L583.05,270.27 L583.30,271.34 L583.55,272.28 L583.80,272.69 L584.05,273.09 L584.30,273.50 L584.55,273.87 L584.80,274.12 L585.05,274.31 L585.30,274.03 L585.55,273.74 L585.80,273.45 L586.05,273.10 L586.30,272.53 L586.55,271.96 L586.80,271.39 L587.05,270.83 L587.30,270.32 L587.55,269.82 L587.80,269.31 L588.05,268.95 L588.30,268.85 L588.55,268.75 L588.80,268.64 L589.05,268.63 L589.30,268.98 L589.55,269.33 L589.80,269.69 L590.05,270.04 L590.30,270.75 L590.55,271.45 L590.80,272.09 L591.05,272.15 L591.30,271.90 L591.55,271.65 L591.80,271.40 L592.05,271.15 L592.30,270.77 L592.55,269.88 L592.80,268.99 L593.05,268.09 L593.30,267.20 L593.55,266.31 L593.80,265.41 L594.05,264.45 L594.30,263.20 L594.55,261.95 L594.80,260.70 L595.05,259.45 L595.30,258.20 L595.55,257.02 L595.80,256.13 L596.05,255.24 L596.30,254.34 L596.55,253.45 L596.80,252.56 L597.05,251.66 L597.30,250.93 L597.55,250.80 L597.80,250.68 L598.05,250.55 L598.30,250.43 L598.55,250.30 L598.80,250.18 L599.05,250.05 L599.30,249.93 L599.55,249.80 L599.80,249.72 L600.05,249.72 L600.30,249.72 L600.55,249.72 L600.80,249.72 L601.05,249.72 L601.30,249.72 L601.55,249.72 L601.80,249.72 L602.05,249.85 L602.30,249.97 L602.55,250.10 L602.80,250.22 L603.05,250.35 L603.30,250.47 L603.55,250.60 L603.80,250.72 L604.05,250.85 L604.30,250.99 L604.55,251.19 L604.80,251.39 L605.05,251.59 L605.30,251.79 L605.55,251.99 L605.80,252.19 L606.05,252.39 L606.30,252.59 L606.55,252.79 L606.80,252.97 L607.05,253.05 L607.30,253.13 L607.55,253.22 L607.80,253.30 L608.05,253.38 L608.30,253.47 L608.55,253.55 L608.80,253.63 L609.05,253.72 L609.30,253.80 L609.55,253.88 L609.80,253.97 L610.05,254.05 L610.30,254.13 L610.55,254.20 L610.80,254.20 L611.05,254.19 L611.30,254.12 L611.55,254.06 L611.80,254.00 L612.05,253.94 L612.30,253.88 L612.55,253.81 L612.80,253.75 L613.05,253.69 L613.30,253.62 L613.55,253.56 L613.80,253.50 L614.05,253.43 L614.30,253.30 L614.55,253.18 L614.80,253.05 L615.05,252.93 L615.30,252.80 L615.55,252.68 L615.80,252.55 L616.05,252.43 L616.30,252.30 L616.55,251.87 L616.80,250.20 L617.05,248.53 L617.30,246.87 L617.55,245.20 L617.80,243.53 L618.05,241.60 L618.30,238.60 L618.55,235.60 L618.80,232.60 L619.05,229.60 L619.30,226.30 L619.55,221.80 L619.80,217.30 L620.05,212.80 L620.30,208.30 L620.55,203.70 L620.80,198.70 L621.05,193.70 L621.30,188.70 L621.55,183.54 L621.80,177.74 L622.05,171.94 L622.30,166.14 L622.55,161.01 L622.80,158.53 L623.05,156.06 L623.30,153.58 L623.55,151.28 L623.80,149.65 L624.05,148.83 L624.30,148.01 L624.55,147.19 L624.80,146.37 L625.05,144.28 L625.30,142.20 L625.55,140.12 L625.80,138.03 L626.05,135.95 L626.30,133.87 L626.55,131.78 L626.80,129.70 L627.05,127.62 L627.30,125.53 L627.55,123.45 L627.80,121.37 L628.05,118.81 L628.30,115.72 L628.55,112.63 L628.80,109.53 L629.05,108.95 L629.30,107.42 L629.55,105.88 L629.80,104.34 L630.05,104.34 L630.30,104.34 L630.55,104.34 L630.80,104.34 L631.05,104.35 L631.30,104.37 L631.55,104.38 L631.80,105.49 L632.05,106.87 L632.30,108.25 L632.55,109.10 L632.80,107.93 L633.05,106.79 L633.30,105.65 L633.55,105.87 L633.80,106.40 L634.05,106.93 L634.30,107.46 L634.55,107.79 L634.80,108.13 L635.05,109.83 L635.30,111.53 L635.55,112.74 L635.80,113.63 L636.05,118.15 L636.30,122.67 L636.55,126.06 L636.80,128.34 L637.05,130.61 L637.30,132.88 L637.55,134.99 L637.80,136.41 L638.05,137.84 L638.30,139.27 L638.55,140.70 L638.80,142.13 L639.05,143.56 L639.30,145.50 L639.55,149.50 L639.80,153.50 L640.05,157.50 L640.30,161.50 L640.55,164.85 L640.80,165.60 L641.05,166.35 L641.30,167.10 L641.55,167.05 L641.80,163.80 L642.05,160.55 L642.30,157.30 L642.55,153.95 L642.80,150.20 L643.05,146.45 L643.30,142.70 L643.55,138.24 L643.80,130.95 L644.05,123.66 L644.30,105.20 L644.55,104.93 L644.80,103.56 L645.05,102.19 L645.30,99.05 L645.55,99.05 L645.80,99.05 L646.05,99.05 L646.30,99.05 L646.55,99.05 L646.80,99.05 L647.05,99.05 L647.30,99.05 L647.55,101.44 L647.80,102.39 L648.05,102.97 L648.30,103.56 L648.55,112.90 L648.80,115.52 L649.05,116.34 L649.30,116.70 L649.55,117.06 L649.80,117.41 L650.05,120.53 L650.30,134.70 L650.55,145.41 L650.80,156.13 L651.05,166.03 L651.30,172.70 L651.55,179.37 L651.80,185.87 L652.05,191.70 L652.30,197.53 L652.55,202.97 L652.80,206.81 L653.05,210.65 L653.30,214.49 L653.55,215.54 L653.80,215.13 L654.05,214.80 L654.30,214.80 L654.55,214.80 L654.80,214.80 L655.05,214.80 L655.30,214.93 L655.55,214.11 L655.80,213.31 L656.05,212.61 L656.30,211.90 L656.55,211.16 L656.80,210.23 L657.05,209.31 L657.30,208.38 L657.55,207.49 L657.80,206.72 L658.05,205.29 L658.30,201.18 L658.55,197.08 L658.80,192.98 L659.05,188.45 L659.30,182.20 L659.55,175.95 L659.80,169.70 L660.05,163.45 L660.30,157.20 L660.55,150.95 L660.80,144.70 L661.05,137.95 L661.30,129.20 L661.55,121.45 L661.80,117.70 L662.05,113.95 L662.30,110.70 L662.55,108.20 L662.80,105.70 L663.05,101.40 L663.30,97.75 L663.55,96.87 L663.80,95.99 L664.05,95.44 L664.30,95.23 L664.55,95.23 L664.80,95.23 L665.05,95.23 L665.30,95.23 L665.55,95.23 L665.80,95.23 L666.05,95.23 L666.30,95.23 L666.55,95.23 L666.80,95.23 L667.05,95.68 L667.30,96.43 L667.55,97.17 L667.80,97.92 L668.05,100.08 L668.30,102.42 L668.55,103.61 L668.80,104.81 L669.05,109.88 L669.30,114.74 L669.55,115.42 L669.80,115.99 L670.05,116.52 L670.30,117.06 L670.55,117.59 L670.80,139.70 L671.05,153.59 L671.30,165.70 L671.55,170.44 L671.80,174.13 L672.05,177.81 L672.30,181.50 L672.55,184.79 L672.80,187.00 L673.05,191.31 L673.30,195.63 L673.55,199.94 L673.80,204.45 L674.05,209.50 L674.30,213.50 L674.55,217.50 L674.80,221.50 L675.05,225.20 L675.30,227.70 L675.55,230.20 L675.80,232.70 L676.05,235.37 L676.30,238.70 L676.55,242.03 L676.80,245.37 L677.05,248.70 L677.30,252.03 L677.55,255.06 L677.80,256.84 L678.05,258.63 L678.30,260.41 L678.55,262.20 L678.80,263.99 L679.05,265.77 L679.30,267.38 L679.55,268.27 L679.80,269.16 L680.05,270.06 L680.30,270.95 L680.55,271.84 L680.80,272.74 L681.05,273.50 L681.30,273.75 L681.55,274.00 L681.80,274.25 L682.05,274.50 L682.30,274.75 L682.55,274.95 L682.80,274.95 L683.05,274.96 L683.30,274.96 L683.55,274.94 L683.80,274.82 L684.05,274.70 L684.30,274.58 L684.55,274.46 L684.80,273.94 L685.05,273.49 L685.30,273.48 L685.55,273.48 L685.80,273.47 L686.05,273.46 L686.30,273.39 L686.55,273.32 L686.80,273.25 L687.05,273.13 L687.30,272.75 L687.55,272.38 L687.80,272.00 L688.05,271.63 L688.30,271.25 L688.55,270.90 L688.80,270.65 L689.05,270.40 L689.30,270.15 L689.55,269.90 L689.80,269.65 L690.05,269.40 L690.30,269.15 L690.55,268.90 L690.80,268.65 L691.05,268.29 L691.30,267.51 L691.55,266.73 L691.80,265.95 L692.05,265.17 L692.30,264.39 L692.55,263.61 L692.80,262.83 L693.05,262.02 L693.30,261.13 L693.55,260.24 L693.80,259.34 L694.05,258.45 L694.30,257.56 L694.55,256.66 L694.80,255.90 L695.05,255.65 L695.30,255.40 L695.55,255.15 L695.80,254.90 L696.05,254.65 L696.30,254.40 L696.55,254.15 L696.80,253.90 L697.05,253.65 L697.30,253.44 L697.55,253.39 L697.80,253.34 L698.05,253.29 L698.30,253.24 L698.55,253.19 L698.80,253.14 L699.05,253.09 L699.30,253.04 L699.55,252.99 L699.80,252.98 L700.05,252.98 L700.30,252.98 L700.55,252.98 L700.80,252.98 L701.05,252.98 L701.30,252.98 L701.55,252.98 L701.80,252.98 L702.05,253.16 L702.30,253.33 L702.55,253.51 L702.80,253.68 L703.05,253.86 L703.30,254.03 L703.55,254.21 L703.80,254.38 L704.05,254.56 L704.30,254.75 L704.55,254.98 L704.80,255.21 L705.05,255.44 L705.30,255.67 L705.55,255.90 L705.80,256.13 L706.05,256.36 L706.30,256.59 L706.55,256.82 L706.80,257.05 L707.05,257.28 L707.30,257.52 L707.55,257.71 L707.80,257.75 L708.05,257.80 L708.30,257.84 L708.55,257.89 L708.80,257.93 L709.05,257.97 L709.30,258.02 L709.55,258.06 L709.80,258.11 L710.05,258.15 L710.30,258.19 L710.55,258.24 L710.80,258.28 L711.05,258.33 L711.30,258.37 L711.55,258.41 L711.80,258.45 L712.05,258.45 L712.30,258.45 L712.55,258.45 L712.80,258.45 L713.05,258.45 L713.30,258.45 L713.55,258.36 L713.80,257.89 L714.05,257.42 L714.30,256.95 L714.55,256.48 L714.80,256.01 L715.05,255.54 L715.30,255.08 L715.55,254.37 L715.80,252.70 L716.05,251.03 L716.30,249.37 L716.55,247.70 L716.80,246.03 L717.05,244.45 L717.30,243.20 L717.55,241.95 L717.80,240.70 L718.05,239.45 L718.30,238.20 L718.55,236.95 L718.80,235.70 L719.05,234.08 L719.30,230.95 L719.55,227.83 L719.80,224.70 L720.05,221.62 L720.30,218.70 L720.55,215.78 L720.80,212.87 L721.05,209.95 L721.30,207.03 L721.55,204.27 L721.80,202.13 L722.05,199.99 L722.30,197.84 L722.55,195.61 L722.80,192.99 L723.05,190.38 L723.30,187.70 L723.55,184.73 L723.80,181.76 L724.05,178.79 L724.30,175.85 L724.55,173.13 L724.80,170.80 L725.05,168.47 L725.30,166.14 L725.55,163.29 L725.80,158.69 L726.05,155.49 L726.30,152.28 L726.55,149.08 L726.80,146.47 L727.05,146.47 L727.30,146.47 L727.55,146.47 L727.80,146.47 L728.05,146.96 L728.30,149.42 L728.55,151.88 L728.80,154.34 L729.05,157.38 L729.30,163.70 L729.55,168.66 L729.80,168.11 L730.05,167.74 L730.30,168.09 L730.55,168.44 L730.80,168.79 L731.05,168.86 L731.30,167.77 L731.55,166.69 L731.80,165.61 L732.05,164.74 L732.30,164.13 L732.55,163.51 L732.80,162.90 L733.05,162.20 L733.30,161.19 L733.55,160.18 L733.80,159.17 L734.05,158.16 L734.30,157.77 L734.55,157.58 L734.80,158.20 L735.05,158.81 L735.30,159.42 L735.55,160.20 L735.80,161.64 L736.05,163.15 L736.30,164.92 L736.55,166.68 L736.80,168.45 L737.05,169.98 L737.30,170.60 L737.55,171.22 L737.80,171.84 L738.05,172.49 L738.30,173.27 L738.55,174.04 L738.80,174.82 L739.05,175.59 L739.30,176.36 L739.55,177.14 L739.80,177.91 L740.05,178.63 L740.30,179.10 L740.55,179.58 L740.80,180.05 L741.05,180.47 L741.30,180.63 L741.55,180.30 L741.80,177.96 L742.05,175.62 L742.30,173.29 L742.55,170.64 L742.80,166.73 L743.05,162.83 L743.30,158.92 L743.55,155.66 L743.80,152.49 L744.05,149.31 L744.30,146.13 L744.55,144.23 L744.80,147.40 L745.05,150.58 L745.30,153.76 L745.55,157.20 L745.80,164.20 L746.05,171.20 L746.30,178.20 L746.55,184.82 L746.80,189.42 L747.05,191.92 L747.30,194.42 L747.55,196.92 L747.80,199.32 L748.05,201.32 L748.30,203.32 L748.55,205.32 L748.80,207.32 L749.05,209.25 L749.30,210.92 L749.55,212.59 L749.80,214.25 L750.05,215.92 L750.30,217.59 L750.55,219.17 L750.80,220.42 L751.05,221.67 L751.30,222.92 L751.55,224.17 L751.80,225.42 L752.05,226.59 L752.30,227.47 L752.55,228.34 L752.80,229.22 L753.05,230.09 L753.30,230.97 L753.55,231.84 L753.80,232.72 L754.05,233.48 L754.30,233.78 L754.55,234.08 L754.80,234.38 L755.05,234.68 L755.30,234.98 L755.55,235.25 L755.80,235.42 L756.05,235.58 L756.30,235.74 L756.55,235.93 L756.80,236.21 L757.05,236.49 L757.30,236.77 L757.55,237.05 L757.80,236.71 L758.05,233.70 L758.30,230.69 L758.55,228.25 L758.80,228.08 L759.05,227.91 L759.30,227.75 L759.55,227.55 L759.80,227.25 L760.05,227.11 L760.30,226.98 L760.55,226.84 L760.80,226.70 L761.05,226.68 L761.30,227.09 L761.55,227.50 L761.80,227.91 L762.05,228.54 L762.30,230.75 L762.55,232.95 L762.80,235.16 L763.05,237.14 L763.30,238.20 L763.55,239.27 L763.80,240.34 L764.05,241.40 L764.30,242.38 L764.55,242.99 L764.80,243.60 L765.05,244.21 L765.30,244.99 L765.55,246.41 L765.80,247.84 L766.05,249.27 L766.30,250.70 L766.55,252.13 L766.80,253.56 L767.05,254.95 L767.30,256.20 L767.55,257.45 L767.80,258.70 L768.05,259.95 L768.30,261.20 L768.55,262.45 L768.80,263.70 L769.05,264.82 L769.30,265.45 L769.55,266.07 L769.80,266.70 L770.05,267.32 L770.30,267.95 L770.55,268.53 L770.80,268.95 L771.05,269.37 L771.30,269.79 L771.55,270.19 L771.80,270.51 L772.05,270.82 L772.30,271.14 L772.55,271.46 L772.80,271.77 L773.05,272.09 L773.30,272.40 L773.55,272.76 L773.80,273.28 L774.05,273.80 L774.30,274.32 L774.55,274.81 L774.80,275.16 L775.05,275.50 L775.30,275.85 L775.55,276.19 L775.80,276.54 L776.05,276.89 L776.30,277.23 L776.55,277.58 L776.80,277.94 L777.05,278.35 L777.30,278.76 L777.55,279.16 L777.80,279.55 L778.05,279.84 L778.30,280.14 L778.55,280.43 L778.80,280.73 L779.05,281.02 L779.30,281.31 L779.55,281.61 L779.80,281.90 L780.05,282.22 L780.30,282.61 L780.55,283.01 L780.80,283.40 L781.05,283.79 L781.30,284.15 L781.55,284.52 L781.80,284.88 L782.05,285.24 L782.30,285.08 L782.55,284.75 L782.80,284.29 L783.05,283.82 L783.30,283.39 L783.55,283.06 L783.80,282.74 L784.05,282.41 L784.30,282.09 L784.55,281.76 L784.80,281.44 L785.05,281.11 L785.30,280.79 L785.55,280.46 L785.80,280.15 L786.05,279.92 L786.30,279.69 L786.55,279.45 L786.80,279.22 L787.05,278.99 L787.30,278.75 L787.55,278.52 L787.80,278.29 L788.05,278.05 L788.30,277.82 L788.55,277.59 L788.80,277.35 L789.05,277.12 L789.30,276.89 L789.55,276.66 L789.80,276.44 L790.05,276.22 L790.30,276.01 L790.55,275.79 L790.80,275.57 L791.05,275.36 L791.30,275.14 L791.55,274.92 L791.80,274.71 L792.05,274.49 L792.30,274.27 L792.55,274.06 L792.80,273.84 L793.05,273.62 L793.30,273.42 L793.55,273.29 L793.80,273.16 L794.05,273.02 L794.30,272.89 L794.55,272.76 L794.80,272.62 L795.05,272.49 L795.30,272.36 L795.55,272.22 L795.80,272.09 L796.05,271.96 L796.30,271.82 L796.55,271.69 L796.80,271.56 L797.05,271.43 L797.30,271.31 L797.55,271.19 L797.80,271.08 L798.05,270.96 L798.30,270.84 L798.55,270.73 L798.80,270.61 L799.05,270.49 L799.30,270.38 L799.55,270.26 L799.80,270.14 L800.05,270.03 L800.30,269.91 L800.55,269.79 L800.80,269.69 L801.05,269.64 L801.30,269.59 L801.55,269.54 L801.80,269.49 L802.05,269.44 L802.30,269.39 L802.55,269.34 L802.80,269.29 L803.05,269.24 L803.30,269.19 L803.55,269.14 L803.80,269.09 L804.05,269.04 L804.30,268.99 L804.55,268.95 L804.80,268.95 L805.05,268.95 L805.30,268.95 L805.55,268.95 L805.80,268.95 L806.05,268.95 L806.30,268.95 L806.55,268.95" stroke="#f88080" stroke-width="2.6"/>
<path d="M124.80,255.30 L127.50,253.50 L129.60,251.50 L130.60,244.00 L131.00,237.50 L131.60,222.00 L132.00,205.00 L133.00,180.00 L134.50,155.00 L135.50,130.00 L136.25,112.50 L138.00,97.50 L140.00,86.00 L141.75,78.75 L142.90,87.80 L144.40,97.50 L145.30,107.30 L146.80,120.00 L147.80,124.00 L149.50,128.00 L150.50,150.00 L150.80,175.00 L151.00,188.00 L153.50,188.00 L154.50,175.00 L155.50,155.00 L156.50,130.00 L156.75,97.50 L158.00,94.50 L160.00,97.50 L160.50,130.00 L160.75,167.50 L162.00,192.50 L163.00,212.50 L164.50,212.50 L165.00,207.50 L166.00,206.20 L169.40,206.00 L169.80,204.20 L171.70,204.00 L172.50,197.50 L172.90,190.00 L173.20,170.00 L173.30,155.00 L173.60,130.00 L174.30,87.50 L175.60,65.00 L176.80,51.00 L179.00,51.00 L180.50,67.50 L181.75,102.50 L182.50,130.00 L184.00,155.00 L185.00,180.00 L186.25,205.00 L187.50,225.00 L188.75,240.00 L190.50,255.00 L192.00,266.00 L193.75,269.50 L196.25,270.00 L198.75,272.50 L200.50,272.50 L202.50,268.75 L204.50,262.50 L206.25,253.75 L208.75,250.00 L211.25,249.50 L213.75,251.25 L217.50,253.00 L221.25,254.50 L224.50,255.50 L227.00,253.75 L228.25,245.00 L229.25,225.00 L230.00,205.00 L231.25,180.00 L232.50,155.00 L234.00,130.00 L235.30,113.60 L236.40,102.40 L237.40,92.60 L238.70,85.50 L239.30,83.80 L240.70,83.80 L241.60,87.00 L243.10,97.00 L244.60,112.00 L246.25,130.00 L247.50,155.00 L248.75,180.00 L249.50,195.00 L250.00,197.00 L252.00,197.00 L253.25,180.00 L254.25,155.00 L254.70,130.00 L254.90,104.00 L255.20,102.00 L256.60,102.00 L256.80,110.00 L258.00,113.00 L258.30,130.00 L259.00,145.00 L260.50,167.50 L263.00,172.50 L264.00,192.50 L265.50,203.75 L267.00,192.50 L268.75,175.00 L270.00,155.00 L271.25,130.00 L271.75,100.00 L272.50,75.00 L274.00,58.00 L276.00,56.00 L277.00,72.00 L277.75,100.00 L278.75,130.00 L280.50,155.00 L281.50,180.00 L283.00,185.00 L284.00,205.00 L285.50,225.00 L287.00,242.50 L288.75,257.50 L290.50,268.75 L292.50,272.50 L295.00,275.00 L298.00,277.00 L300.50,273.75 L302.50,267.50 L304.50,257.50 L307.00,252.00 L310.00,251.25 L313.75,253.75 L317.50,256.25 L321.25,257.50 L323.75,257.00 L325.50,251.25 L327.25,237.50 L329.00,225.00 L330.50,215.00 L331.50,192.50 L333.50,172.50 L335.50,160.00 L338.00,148.75 L340.50,141.25 L343.50,140.00 L345.50,142.50 L347.25,151.25 L350.50,152.50 L351.60,149.00 L352.25,147.50 L353.00,137.50 L354.00,137.50 L354.75,152.50 L355.40,156.00 L356.00,160.00 L357.25,180.00 L358.50,197.50 L359.75,220.00 L361.00,207.50 L363.00,190.00 L364.75,172.50 L367.60,163.00 L368.90,154.00 L369.20,135.00 L369.60,133.00 L371.90,133.00 L372.40,144.00 L373.30,152.00 L373.60,180.00 L374.75,205.00 L375.50,212.50 L377.25,232.50 L378.50,252.50 L380.50,260.00 L383.00,270.00 L385.50,277.50 L387.25,281.25 L390.50,282.50 L392.25,277.50 L394.00,273.75 L397.25,270.00 L401.00,263.75 L404.75,260.00 L408.00,258.75 L411.00,259.50 L413.50,263.75 L416.00,266.25 L419.00,265.75 L421.50,262.50 L423.50,255.00 L425.00,245.00 L426.50,227.50 L428.40,212.50 L430.40,200.00 L432.00,185.00 L433.60,165.00 L434.90,150.00 L436.50,137.50 L438.50,131.25 L440.50,133.75 L442.25,127.50 L443.50,127.50 L444.50,135.00 L445.40,142.00 L445.90,157.00 L446.90,164.00 L448.00,172.50 L448.50,185.00 L449.75,185.00 L450.50,170.00 L451.50,172.50 L452.25,195.00 L454.75,196.25 L457.25,197.50 L458.70,197.50 L459.50,210.00 L460.80,228.75 L463.00,223.75 L465.50,218.75 L467.50,218.60 L468.50,227.50 L470.50,230.00 L472.00,240.00 L473.50,251.25 L476.00,255.00 L478.50,265.00 L481.00,275.00 L484.00,283.75 L486.00,287.00 L489.75,286.25 L491.00,282.50 L493.50,281.25 L496.00,276.25 L499.00,270.00 L502.25,267.50 L504.75,266.25 L507.25,268.75 L510.50,268.75 L513.50,267.00 L517.25,263.75 L520.00,260.00 L521.50,255.00 L522.50,240.00 L523.25,222.50 L524.50,202.50 L525.75,177.50 L527.00,155.00 L527.75,140.00 L529.40,131.00 L530.30,124.00 L530.60,116.00 L531.30,110.00 L531.60,102.60 L532.30,96.80 L533.70,96.80 L534.60,100.50 L534.70,104.50 L536.50,110.40 L538.00,117.20 L539.40,122.10 L540.40,127.00 L540.90,137.50 L542.00,155.00 L543.25,167.50 L545.00,171.25 L546.30,160.00 L547.40,140.00 L547.80,112.50 L548.20,99.60 L549.40,99.60 L549.80,106.00 L550.80,108.50 L551.20,120.00 L552.40,124.00 L552.90,147.00 L553.25,155.00 L554.50,170.00 L556.00,180.00 L557.00,192.50 L558.50,207.00 L559.50,197.50 L560.75,185.00 L562.00,170.00 L563.25,150.00 L563.75,125.00 L564.50,85.00 L566.50,65.00 L568.25,62.00 L570.00,62.50 L571.00,77.50 L572.00,90.00 L573.00,115.00 L574.00,140.00 L575.25,182.50 L576.50,200.00 L577.50,225.00 L579.00,252.50 L580.75,265.00 L582.50,272.50 L584.50,275.75 L587.00,274.50 L589.00,271.25 L590.75,273.75 L593.25,271.25 L595.00,265.00 L596.50,257.50 L598.25,251.25 L600.75,250.00 L603.25,251.25 L605.75,253.25 L609.50,254.50 L612.00,254.50 L615.00,253.75 L617.50,252.50 L619.00,242.50 L620.25,227.50 L621.50,205.00 L622.50,185.00 L623.50,170.00 L624.80,155.00 L626.60,140.00 L627.80,130.00 L629.00,120.00 L629.80,111.20 L631.60,111.30 L632.50,111.80 L633.30,113.50 L634.80,115.50 L635.40,125.00 L636.50,135.00 L638.25,145.00 L639.50,165.00 L640.75,168.75 L642.50,168.00 L643.50,155.00 L644.50,140.00 L645.10,122.50 L645.30,105.50 L647.30,105.50 L647.60,116.00 L649.00,118.00 L649.30,135.00 L650.00,165.00 L650.75,185.00 L651.50,202.50 L652.50,219.50 L654.00,217.50 L655.75,219.50 L657.50,213.75 L659.00,207.50 L660.00,190.00 L661.00,165.00 L662.00,140.00 L662.50,122.50 L663.20,112.00 L663.90,105.00 L664.20,98.40 L665.90,98.40 L666.90,101.80 L667.90,106.00 L668.20,115.00 L669.60,118.00 L669.80,140.00 L670.25,165.00 L671.50,190.00 L672.75,205.00 L674.00,225.00 L675.00,235.00 L676.50,255.00 L678.25,267.50 L680.00,273.75 L682.50,276.25 L685.00,277.50 L687.00,275.00 L689.50,271.25 L692.00,268.75 L694.00,262.50 L695.75,256.25 L698.25,253.75 L700.75,253.25 L703.25,255.00 L706.50,258.00 L710.75,258.75 L714.50,258.75 L716.50,255.00 L718.00,245.00 L720.00,235.00 L721.00,222.50 L722.50,205.00 L724.25,190.00 L725.50,177.50 L726.75,167.50 L728.00,166.25 L729.00,185.00 L730.00,180.00 L731.00,171.25 L733.00,167.50 L734.50,171.25 L736.00,180.00 L738.00,182.50 L740.00,185.00 L742.50,185.00 L743.50,175.00 L744.50,172.50 L745.50,190.00 L746.75,202.50 L748.00,212.50 L749.50,222.50 L751.00,230.00 L753.00,237.00 L755.50,240.00 L758.50,245.00 L759.50,233.50 L761.00,232.50 L762.00,239.50 L764.25,245.00 L766.00,255.00 L768.00,265.00 L770.50,271.25 L773.50,277.50 L776.75,282.00 L780.00,285.00 L782.50,287.00 L784.25,283.75 L786.75,280.50 L790.50,277.00 L794.25,273.75 L798.00,271.75 L801.75,270.00 L805.50,269.25 L806.75,269.25" stroke="#ffff80" stroke-width="2.3"/>
</g>
<g opacity="0.999">
<text transform="translate(108.6,40.0) scale(1,1.04)" text-anchor="end">20000</text>
<text transform="translate(108.6,110.5) scale(1,1.04)" text-anchor="end">15000</text>
<text transform="translate(108.6,181.0) scale(1,1.04)" text-anchor="end">10000</text>
<text transform="translate(108.6,251.5) scale(1,1.04)" text-anchor="end">5000</text>
<text transform="translate(108.6,322.0) scale(1,1.04)" text-anchor="end">0</text>
<text transform="translate(157.3,338.9) scale(1,1.04)" text-anchor="middle">cs 18 dec</text>
<text transform="translate(255.0,338.9) scale(1,1.04)" text-anchor="middle">p 19 dec</text>
<text transform="translate(352.7,338.9) scale(1,1.04)" text-anchor="middle">szo 20 dec</text>
<text transform="translate(450.4,338.9) scale(1,1.04)" text-anchor="middle">v 21 dec</text>
<text transform="translate(548.1,338.9) scale(1,1.04)" text-anchor="middle">h 22 dec</text>
<text transform="translate(645.8,338.9) scale(1,1.04)" text-anchor="middle">k 23 dec</text>
<text transform="translate(743.5,338.9) scale(1,1.04)" text-anchor="middle">sze 24 dec</text>
<text transform="translate(18.2,165) rotate(-90) scale(1,1.04)" text-anchor="middle" style="font-size:21.4px">onlinestream.live</text>
<rect x="31.5" y="365.5" width="16" height="16" fill="#ff8080" stroke="#000" stroke-width="1"/>
<rect x="31.5" y="393.5" width="16" height="16" fill="#ffff80" stroke="#000" stroke-width="1"/>
<text transform="translate(57.5,380.6) scale(1,1.04)">legtöbb</text>
<text transform="translate(57.5,407.9) scale(1,1.04)">átlag</text>
<text transform="translate(212.0,407.9) scale(1,1.04)">most: 3248</text>
<text transform="translate(429.3,407.9) scale(1,1.04)">átlag: 7451</text>
<text transform="translate(662.0,407.9) scale(1,1.04)">max: 18785</text>
</g>
</svg></body></html>
